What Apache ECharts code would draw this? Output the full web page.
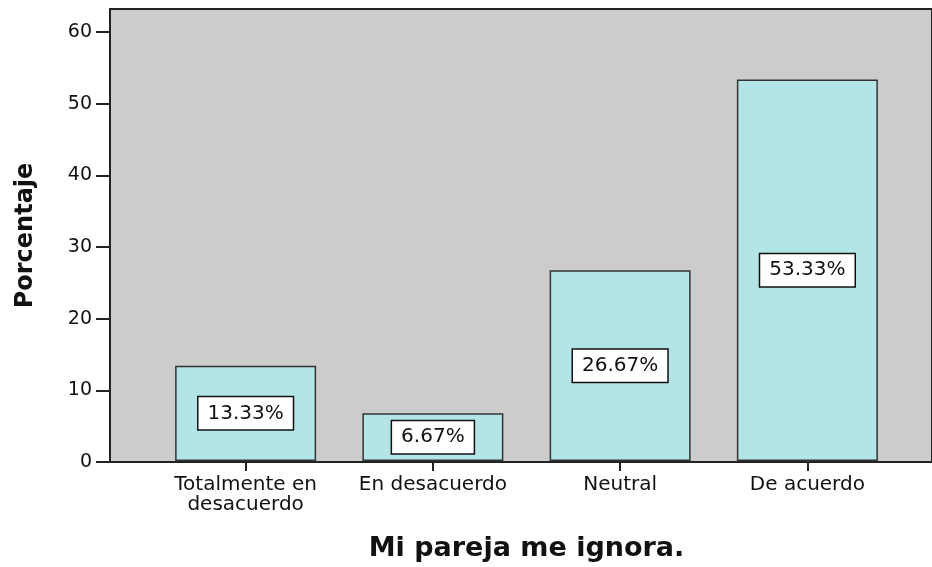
<!DOCTYPE html>
<html>
<head>
<meta charset="utf-8">
<script src="https://cdn.jsdelivr.net/npm/echarts@6/dist/echarts.min.js"></script>
<style>
  html, body { margin: 0; padding: 0; background: #fff; }
  #chart { width: 932px; height: 567px; }
</style>
</head>
<body>
<div id="chart"></div>
<script>
// datos
var categories = ['Totalmente en\ndesacuerdo', 'En desacuerdo', 'Neutral', 'De acuerdo'];
var percentages = [13.33, 6.67, 26.67, 53.33];
var yTicks = [0, 10, 20, 30, 40, 50, 60];

var chart = echarts.init(document.getElementById('chart'));
var font = 'DejaVu Sans';

chart.setOption({
  animation: false,
  grid: [
    // fondo gris del área de trazado
    { left: 110, top: 9, bottom: 105, right: -10, show: true, backgroundColor: '#cccccc',
      borderColor: '#222', borderWidth: 2 },
    // área de las barras
    { left: 152, top: 9, bottom: 105, right: 31 }
  ],
  xAxis: [
    { gridIndex: 0, type: 'value', show: false, min: 0, max: 1 },
    {
      gridIndex: 1,
      type: 'category',
      data: categories,
      name: 'Mi pareja me ignora.',
      nameLocation: 'middle',
      nameGap: 74,
      nameTextStyle: { fontFamily: font, fontWeight: 'bold', fontSize: 27, color: '#111' },
      axisLine: { show: false },
      axisTick: { show: true, alignWithLabel: true, interval: 0, length: 10,
        lineStyle: { color: '#222', width: 2 } },
      axisLabel: { fontFamily: font, fontSize: 20, color: '#111', margin: 14, lineHeight: 20,
        interval: 0, hideOverlap: false }
    }
  ],
  yAxis: [
    {
      gridIndex: 0,
      type: 'value',
      min: 0,
      max: 63.2,
      interval: 10,
      name: 'Porcentaje',
      nameLocation: 'middle',
      nameGap: 72,
      nameTextStyle: { fontFamily: font, fontWeight: 'bold', fontSize: 24, color: '#111' },
      splitLine: { show: false },
      axisLine: { show: true, lineStyle: { color: '#222', width: 2 } },
      axisTick: { show: true, length: 14, customValues: yTicks, lineStyle: { color: '#222', width: 2 } },
      axisLabel: { fontFamily: font, fontSize: 19, color: '#111', margin: 18, customValues: yTicks }
    },
    { gridIndex: 1, type: 'value', min: 0, max: 63.2, show: false }
  ],
  series: [
    {
      type: 'bar',
      xAxisIndex: 1,
      yAxisIndex: 1,
      data: percentages,
      barWidth: 141,
      itemStyle: { color: '#b3e5e6', borderColor: '#333', borderWidth: 1.5 },
      label: {
        show: true,
        position: 'inside',
        formatter: function (p) { return p.value.toFixed(2) + '%'; },
        fontFamily: font,
        fontSize: 20,
        color: '#111',
        backgroundColor: '#fff',
        borderColor: '#111',
        borderWidth: 1.5,
        padding: [6, 9],
        lineHeight: 20
      }
    }
  ]
});
</script>
</body>
</html>
